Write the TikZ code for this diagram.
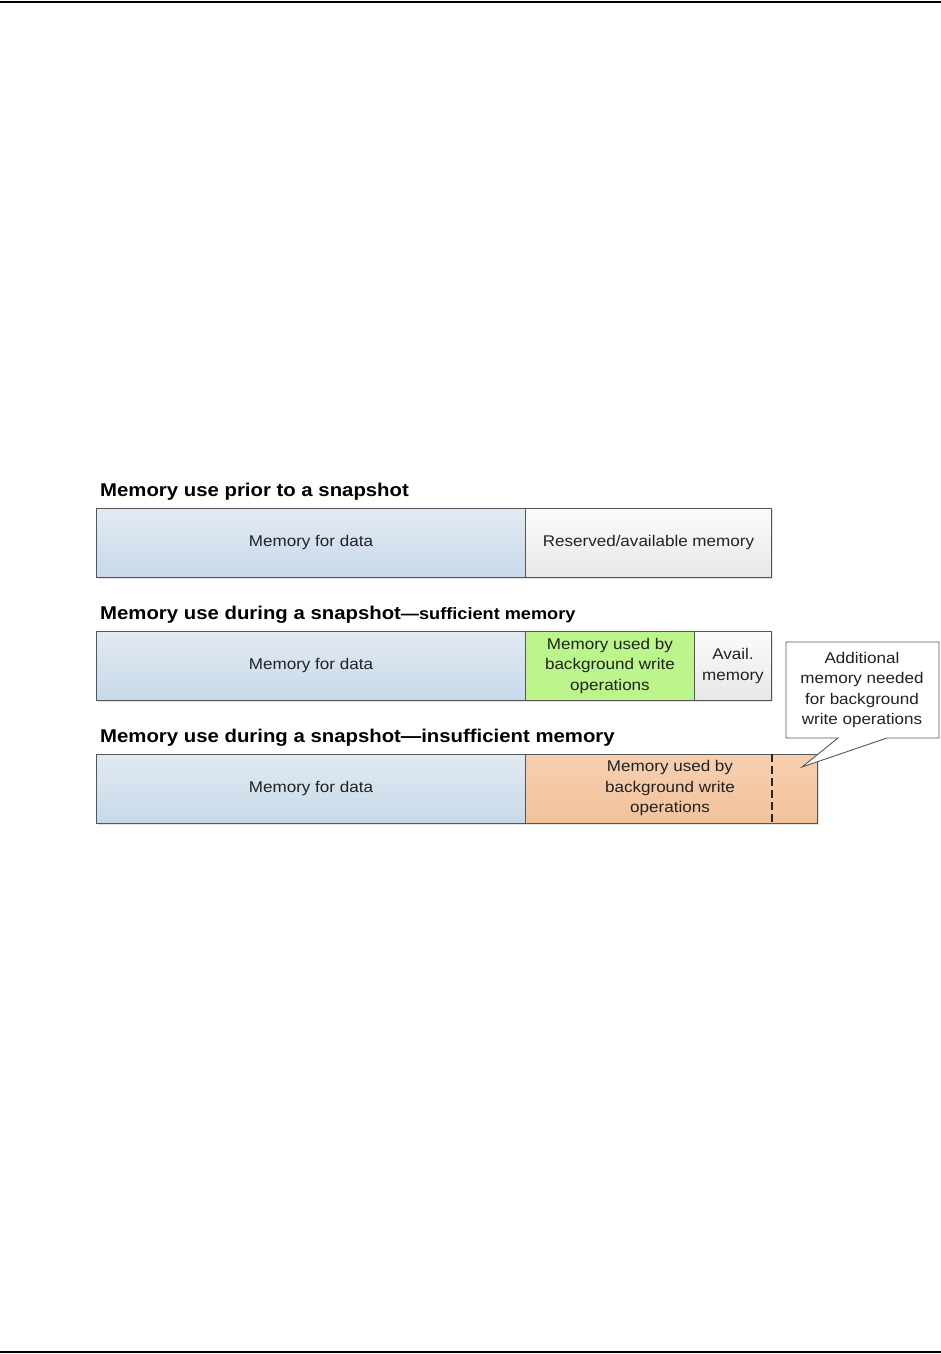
\documentclass[tikz,border=0pt]{standalone}
\usepackage{fontspec}
\setmainfont{Liberation Sans}[FakeStretch=1.1]
\usetikzlibrary{shadows}
\definecolor{bordergray}{HTML}{555555}
\definecolor{bluetop}{HTML}{E2EAF3}
\definecolor{bluebot}{HTML}{C7D9E9}
\definecolor{greenfill}{HTML}{BBF58C}
\definecolor{graytop}{HTML}{FBFBFB}
\definecolor{graybot}{HTML}{E8E8E8}
\definecolor{orangetop}{HTML}{F7CFAF}
\definecolor{orangebot}{HTML}{F2C29C}
\definecolor{textgray}{HTML}{222222}
\tikzset{
  seg/.style={draw=bordergray, line width=0.9pt, anchor=north west, inner sep=0pt,
    minimum height=69pt, align=center, font=\fontsize{15.5}{20.5}\selectfont, text=textgray,
    drop shadow={shadow xshift=2pt, shadow yshift=-2pt, fill=black!18, opacity=0.6}},
  bluebox/.style={seg, top color=bluetop, bottom color=bluebot},
  greenbox/.style={seg, fill=greenfill},
  graybox/.style={seg, top color=graytop, bottom color=graybot},
  orangebox/.style={seg, top color=orangetop, bottom color=orangebot},
  title/.style={anchor=base west, inner sep=0pt, font=\bfseries\fontsize{18.5}{22}\selectfont},
  pageline/.style={line width=2pt, black},
}
\begin{document}
\begin{tikzpicture}[x=1pt, y=-1pt]
\useasboundingbox (0,0) rectangle (941,1354);
\fill[white] (0,0) rectangle (941,1354);
% page rules
\coordinate (tl) at (0,2);
\coordinate (tr) at (941,2);
\coordinate (bl) at (0,1352);
\coordinate (br) at (941,1352);
\draw[pageline] (tl) -- (tr);
\draw[pageline] (bl) -- (br);

% row 1
\node[title] (t1) at (100,496) {Memory use prior to a snapshot};
\node[bluebox, minimum width=429pt] (r1a) at (96,508) {Memory for data};
\node[graybox, minimum width=246pt] (r1b) at (525,508) {Reserved/available memory};

% row 2
\node[title] (t2) at (100,619) {Memory use during a snapshot{\fontsize{16.5}{20}\selectfont—sufficient memory}};
\node[bluebox, minimum width=429pt] (r2a) at (96,631) {Memory for data};
\node[greenbox, minimum width=169pt] (r2b) at (525,631) {Memory used by\\background write\\operations};
\node[graybox, minimum width=77pt] (r2c) at (694,631) {Avail.\\memory};

% row 3
\node[title] (t3) at (100,742) {Memory use during a snapshot—insufficient memory};
\node[bluebox, minimum width=429pt] (r3a) at (96,754) {Memory for data};
\node[orangebox, minimum width=292pt] (r3b) at (525,754) {};
\node[anchor=center, align=center, inner sep=0pt, font=\fontsize{15.5}{20.5}\selectfont, text=textgray] (r3t) at (670,788) {Memory used by\\background write\\operations};
\coordinate (dtop) at (772,754);
\coordinate (dbot) at (772,823);
\draw[black!85, line width=1.3pt, dash pattern=on 7.5pt off 4.5pt] (dtop) -- (dbot);

% callout
\coordinate (tip) at (802,767);
\path[draw=bordergray, line width=0.9pt, fill=white]
  (786,642) -- (939,642) -- (939,738) -- (887,738) -- (tip) -- (838,738) -- (786,738) -- cycle;
\node[align=center, inner sep=0pt, font=\fontsize{15.5}{20.5}\selectfont, text=textgray] (call) at (862,690)
  {Additional\\memory needed\\for background\\write operations};
\end{tikzpicture}
\end{document}
